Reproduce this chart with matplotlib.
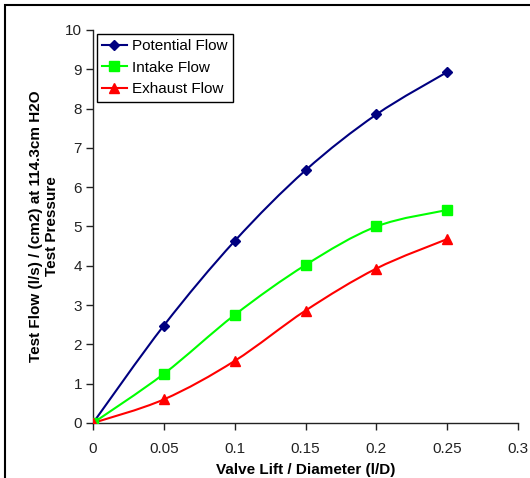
import matplotlib
matplotlib.use("Agg")
import matplotlib.pyplot as plt
from matplotlib.path import Path
from matplotlib.patches import PathPatch, Rectangle
import numpy as np

plt.rcParams['font.family'] = ['Liberation Sans', 'DejaVu Sans']

lift = [0, 0.05, 0.1, 0.15, 0.2, 0.25]
potential = [0, 2.48, 4.63, 6.43, 7.85, 8.93]
intake = [0, 1.25, 2.75, 4.02, 5.0, 5.42]
exhaust = [0, 0.6, 1.58, 2.86, 3.93, 4.68]

series = [
    ("Potential Flow", potential, "#000080", "D", 5.5),
    ("Intake Flow", intake, "#00FF00", "s", 6.5),
    ("Exhaust Flow", exhaust, "#FF0000", "^", 7),
]

x_ticks = [0, 0.05, 0.1, 0.15, 0.2, 0.25, 0.3]
x_tick_labels = ["0", "0.05", "0.1", "0.15", "0.2", "0.25", "0.3"]
y_ticks = list(range(0, 11))

fig = plt.figure(figsize=(5.30, 4.78), dpi=100)
ax = fig.add_axes([93/530, 1 - 423/478, (518-93)/530, (423-30)/478])


def smooth_path(xs, ys):
    pts = np.column_stack([xs, ys]).astype(float)
    n = len(pts)
    verts = [pts[0]]
    codes = [Path.MOVETO]
    for i in range(n - 1):
        p0 = pts[i - 1] if i > 0 else pts[i]
        p1 = pts[i]
        p2 = pts[i + 1]
        p3 = pts[i + 2] if i + 2 < n else pts[i + 1]
        c1 = p1 + (p2 - p0) / 6.0
        c2 = p2 - (p3 - p1) / 6.0
        verts += [c1, c2, p2]
        codes += [Path.CURVE4] * 3
    return Path(verts, codes)


for label, ys, color, marker, ms in series:
    ax.add_patch(PathPatch(smooth_path(lift, ys), fill=False, edgecolor=color,
                           lw=1.5, zorder=2))
    ax.plot(lift, ys, linestyle='None', marker=marker, color=color,
            markersize=ms, zorder=3)
    ax.plot([], [], color=color, lw=1.5, marker=marker, markersize=ms, label=label)

ax.set_xlim(0, 0.3)
ax.set_ylim(0, 10)
ax.set_xticks(x_ticks)
ax.set_xticklabels(x_tick_labels)
ax.set_yticks(y_ticks)
ax.tick_params(axis='both', direction='out', length=5, width=1, labelsize=11,
               colors='#222222')
ax.tick_params(axis='x', pad=9)
ax.tick_params(axis='y', pad=3)
for s in ['top', 'right']:
    ax.spines[s].set_visible(False)
for s in ['left', 'bottom']:
    ax.spines[s].set_color('#222222')
    ax.spines[s].set_linewidth(1)

ax.set_xlabel("Valve Lift / Diameter (l/D)", fontsize=11, fontweight='bold', labelpad=5)
ax.set_ylabel("Test Flow (l/s) / (cm2) at 114.3cm H2O\nTest Pressure", fontsize=11,
              fontweight='bold', labelpad=4, linespacing=1.25)

leg = ax.legend(loc='upper left', bbox_to_anchor=(0.0, 1.0), fontsize=11,
                frameon=True, fancybox=False, edgecolor='black', framealpha=1,
                borderpad=0.35, handlelength=1.6, handletextpad=0.35,
                labelspacing=0.5, borderaxespad=0.25)
leg.get_frame().set_linewidth(1)

fig.patches.append(Rectangle((5/530, -0.1), 2, 1.1 - 5/478, transform=fig.transFigure,
                             fill=False, edgecolor='black', lw=1.5))

fig.savefig("out.png", dpi=100)
